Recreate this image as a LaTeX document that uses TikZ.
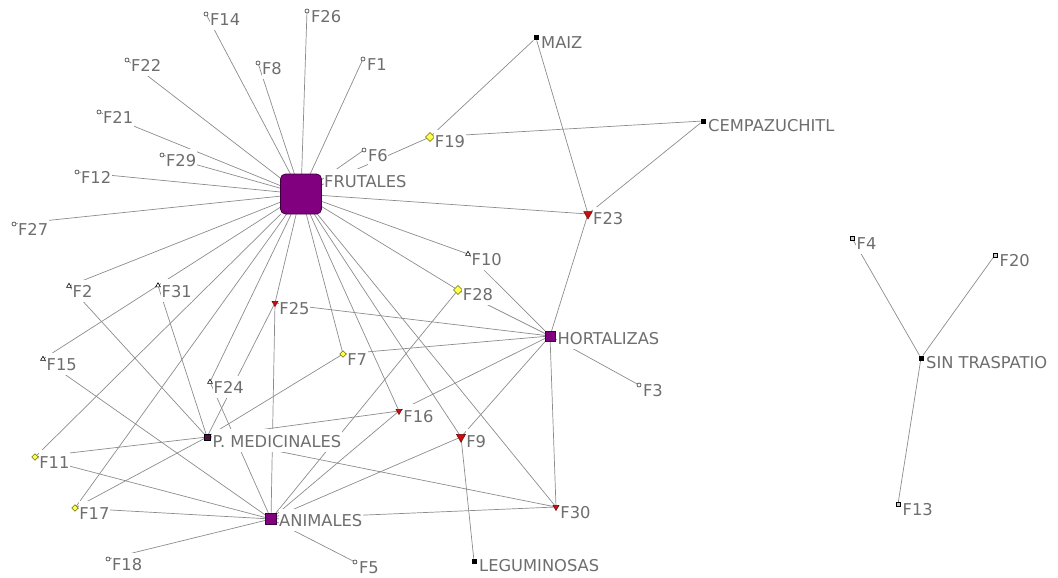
\documentclass[tikz,border=0pt]{standalone}
\usepackage{fontspec}
\setmainfont{DejaVu Sans}
\usetikzlibrary{shapes.geometric,calc}
\pgfdeclarelayer{bg}
\pgfsetlayers{bg,main}
\definecolor{edgec}{RGB}{140,140,140}
\definecolor{labc}{RGB}{110,110,110}
\definecolor{purp}{RGB}{128,0,128}
\definecolor{darkp}{RGB}{60,0,60}
\definecolor{medp}{RGB}{80,10,80}
\definecolor{redm}{RGB}{200,16,16}
\definecolor{yelm}{RGB}{255,255,80}
\definecolor{olivd}{RGB}{110,110,0}
\newcommand\lab[2]{\node[lbl, anchor=base west] (l#1) at ($(#1.north east)+(2pt,-13pt)$) {#2};}
\begin{document}
\begin{tikzpicture}[x=1pt,y=-1pt,
  mk/.style={inner sep=0pt, outer sep=0pt},
  bigsq/.style={mk, rectangle, rounded corners=5pt, minimum width=41pt, minimum height=40pt, fill=purp, draw=darkp, line width=0.8pt},
  hubsq/.style={mk, rectangle, minimum size=10pt, fill=purp, draw=darkp, line width=0.6pt},
  medsq/.style={mk, rectangle, minimum size=6pt, fill=medp, draw=black, line width=0.5pt},
  blksq/.style={mk, rectangle, minimum size=5pt, fill=black},
  opensq/.style={mk, rectangle, minimum size=4pt, fill=gray!40, draw=black, line width=0.6pt},
  circ/.style={mk, circle, minimum size=4pt, fill=white, draw=black!80, line width=0.6pt},
  triup/.style={mk, regular polygon, regular polygon sides=3, minimum size=5.5pt, fill=white, draw=black, line width=0.6pt},
  tridn/.style={mk, regular polygon, regular polygon sides=3, shape border rotate=180, minimum size=#1, fill=redm, draw=black!60!red, line width=0.5pt},
  tridn/.default=7pt,
  diam/.style={mk, diamond, minimum size=#1, fill=yelm, draw=olivd, line width=0.5pt},
  diam/.default=6.5pt,
  edge/.style={draw=edgec, line width=0.7pt},
  lbl/.style={font=\fontsize{16.3pt}{18pt}\selectfont, text=labc, fill=white, inner xsep=0.5pt, inner ysep=0pt, text height=18pt, text depth=4.5pt}
]
\useasboundingbox (0,0) rectangle (1058,578);
% markers
\node[bigsq] (FR) at (301,194) {};
\node[hubsq] (HO) at (550,336) {};
\node[hubsq, minimum size=11pt] (AN) at (271,519) {};
\node[medsq] (PM) at (207,437) {};
\node[blksq] (MA) at (536,38) {};
\node[blksq] (CE) at (703,121) {};
\node[blksq] (LE) at (474,561) {};
\node[blksq] (ST) at (921,358) {};
\node[opensq] (F4) at (852,238) {};
\node[opensq] (F20) at (995,255) {};
\node[opensq] (F13) at (898,504) {};
\node[circ] (F14) at (206,14) {};
\node[circ] (F26) at (307,11) {};
\node[circ] (F22) at (127,60) {};
\node[circ] (F8) at (258,63) {};
\node[circ] (F1) at (363,59) {};
\node[circ] (F21) at (99,112) {};
\node[circ] (F29) at (162,155) {};
\node[circ] (F12) at (77,172) {};
\node[circ] (F27) at (14,224) {};
\node[circ] (F6) at (364,150) {};
\node[circ] (F18) at (108,559) {};
\node[circ] (F5) at (355,562) {};
\node[circ] (F3) at (639,385) {};
\node[triup] (F2) at (69,286) {};
\node[triup] (F31) at (158,285.5) {};
\node[triup] (F15) at (43,359) {};
\node[triup] (F24) at (210,382) {};
\node[triup] (F10) at (468,254) {};
\node[tridn=10pt] (F23) at (588,214) {};
\node[tridn=10.5pt] (F9) at (461,437) {};
\node[tridn] (F25) at (275,303) {};
\node[tridn] (F16) at (399,411) {};
\node[tridn] (F30) at (556,507) {};
\node[diam=9pt] (F19) at (430,137) {};
\node[diam=9pt] (F28) at (458,290) {};
\node[diam] (F7) at (343,354) {};
\node[diam] (F11) at (35,457) {};
\node[diam] (F17) at (75,508) {};
% edges
\begin{pgfonlayer}{bg}
\foreach \a/\b in {FR/F14,FR/F26,FR/F22,FR/F8,FR/F1,FR/F21,FR/F29,FR/F12,FR/F27,FR/F6,FR/F19,FR/F23,FR/F10,FR/F28,FR/F2,FR/F15,FR/F11,FR/F17,FR/F24,FR/F25,FR/F7,FR/F16,FR/F9,FR/F30,
  HO/F23,HO/F10,HO/F28,HO/F25,HO/F7,HO/F16,HO/F9,HO/F3,HO/F30,
  AN/F15,AN/F11,AN/F17,AN/F18,AN/F5,AN/F24,AN/F25,AN/F28,AN/F16,AN/F9,AN/F30,
  PM/F2,PM/F31,PM/F25,PM/F7,PM/F11,PM/F17,PM/F16,PM/F30,
  F19/MA,F19/CE,F23/MA,F23/CE,F9/LE,ST/F4,ST/F20,ST/F13}
  \draw[edge] (\a) -- (\b);
\end{pgfonlayer}
% labels
\lab{FR}{FRUTALES}
\lab{HO}{HORTALIZAS}
\lab{AN}{ANIMALES}
\lab{PM}{P. MEDICINALES}
\lab{MA}{MAIZ}
\lab{CE}{CEMPAZUCHITL}
\lab{LE}{LEGUMINOSAS}
\lab{ST}{SIN TRASPATIO}
\foreach \n in {F1,F2,F3,F4,F5,F6,F7,F8,F9,F10,F11,F12,F13,F14,F15,F16,F17,F18,F19,F20,F21,F22,F23,F24,F25,F26,F27,F28,F29,F30,F31}
  {\lab{\n}{\n}}
\end{tikzpicture}
\end{document}
